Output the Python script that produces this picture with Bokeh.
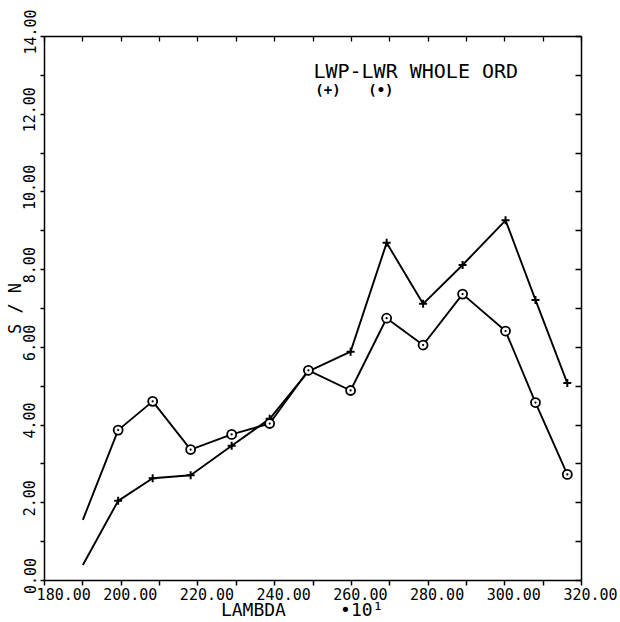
from bokeh.plotting import figure
from bokeh.models import FixedTicker, LinearAxis, Range1d, Label
from bokeh.embed import file_html
from bokeh.resources import INLINE

# ---- data ----
lambda_vals = [190.0, 199.2, 208.2, 218.1, 228.8, 238.7, 248.8, 259.8, 269.2, 278.7, 289.0, 300.2, 308.0, 316.3]
sn_plus = [0.40, 2.05, 2.63, 2.71, 3.47, 4.16, 5.38, 5.89, 8.69, 7.12, 8.12, 9.27, 7.22, 5.08]
sn_circle = [1.56, 3.87, 4.61, 3.37, 3.76, 4.04, 5.41, 4.89, 6.75, 6.06, 7.37, 6.42, 4.58, 2.73]

x_major = [180, 200, 220, 240, 260, 280, 300, 320]
x_minor = [190, 210, 230, 250, 270, 290, 310]
x_labels = ["180.00", "200.00", "220.00", "240.00", "260.00", "280.00", "300.00", "320.00"]
y_major = [0, 2, 4, 6, 8, 10, 12, 14]
y_minor = [1, 3, 5, 7, 9, 11, 13]
y_labels = ["0.00", "2.00", "4.00", "6.00", "8.00", "10.00", "12.00", "14.00"]

title_text = "LWP-LWR WHOLE ORD"
legend_plus = "(+)"
legend_circle = "(•)"
x_title = "LAMBDA"
x_scale = "•10¹"
y_title = "S / N"

FONT = "DejaVu Sans Mono"
NB = "\u00a0"

p = figure(width=620, height=622, x_range=Range1d(180, 320), y_range=Range1d(0, 14),
           output_backend="svg", toolbar_location=None,
           min_border_left=44, min_border_right=39, min_border_top=36, min_border_bottom=41)
p.xgrid.visible = False
p.ygrid.visible = False
p.outline_line_color = None
p.background_fill_color = "white"
p.border_fill_color = "white"

# bottom axis
xa = p.xaxis[0]
xa.ticker = FixedTicker(ticks=x_major, minor_ticks=x_minor)
xa.major_label_overrides = {t: NB * (4 if i == 0 else 2) + lab for i, (t, lab) in enumerate(zip(x_major, x_labels))}
xa.major_tick_in = 0
xa.major_tick_out = 5
xa.minor_tick_in = 0
xa.minor_tick_out = 5
xa.major_label_standoff = 0
xa.major_label_text_font = FONT
xa.major_label_text_font_size = "15px"
xa.major_label_text_color = "black"
xa.axis_line_color = "black"
xa.axis_line_width = 1.5
xa.major_tick_line_width = 1.5
xa.minor_tick_line_width = 1.5
xa.axis_label = x_title + NB * 5 + x_scale + NB * 2
xa.axis_label_text_font = FONT
xa.axis_label_text_font_size = "18px"
xa.axis_label_text_font_style = "normal"
xa.axis_label_text_color = "black"
xa.axis_label_standoff = -8

# left axis
ya = p.yaxis[0]
ya.ticker = FixedTicker(ticks=y_major, minor_ticks=y_minor)
ya.major_label_overrides = {t: NB + lab for t, lab in zip(y_major, y_labels)}
ya.major_label_orientation = "vertical"
ya.major_tick_in = 0
ya.major_tick_out = 4
ya.minor_tick_in = 0
ya.minor_tick_out = 4
ya.major_label_standoff = 1
ya.major_label_text_font = FONT
ya.major_label_text_font_size = "15px"
ya.major_label_text_color = "black"
ya.axis_line_color = "black"
ya.axis_line_width = 1.5
ya.major_tick_line_width = 1.5
ya.minor_tick_line_width = 1.5
ya.axis_label = y_title
ya.axis_label_text_font = FONT
ya.axis_label_text_font_size = "17px"
ya.axis_label_text_font_style = "normal"
ya.axis_label_text_color = "black"
ya.axis_label_standoff = -6

# top axis: inward ticks every 10
top = LinearAxis(ticker=FixedTicker(ticks=x_major + x_minor))
top.major_label_overrides = {t: "" for t in x_major + x_minor}
top.major_tick_in = 5
top.major_tick_out = 0
top.minor_tick_line_color = None
top.major_label_standoff = 0
top.axis_line_width = 1.3
top.major_tick_line_width = 1.3
p.add_layout(top, "above")

# right axis: inward ticks every 1
right = LinearAxis(ticker=FixedTicker(ticks=y_major + y_minor))
right.major_label_overrides = {t: "" for t in y_major + y_minor}
right.major_tick_in = 6
right.major_tick_out = 0
right.minor_tick_line_color = None
right.major_label_standoff = 0
right.axis_line_width = 1.5
right.major_tick_line_width = 1.5
p.add_layout(right, "right")

# series
p.line(lambda_vals, sn_plus, line_color="black", line_width=1.9)
p.line(lambda_vals, sn_circle, line_color="black", line_width=1.9)
p.scatter(lambda_vals[1:], sn_plus[1:], marker="cross", size=8, line_color="black", line_width=2)
p.scatter(lambda_vals[1:], sn_circle[1:], marker="circle_dot", size=9, line_color="black",
          fill_color="white", line_width=1.8)

# in-plot legend text
p.add_layout(Label(x=250.1, y=13.12, text=title_text, text_font=FONT, text_font_size="20px",
                   text_baseline="middle", text_align="left", text_color="black"))
p.add_layout(Label(x=250.6, y=12.63, text=legend_plus, text_font=FONT, text_font_size="14px",
                   text_font_style="bold", text_baseline="middle", text_align="left", text_color="black"))
p.add_layout(Label(x=264.4, y=12.63, text=legend_circle, text_font=FONT, text_font_size="14px",
                   text_font_style="bold", text_baseline="middle", text_align="left", text_color="black"))

open("out.html", "w").write(file_html(p, INLINE))
